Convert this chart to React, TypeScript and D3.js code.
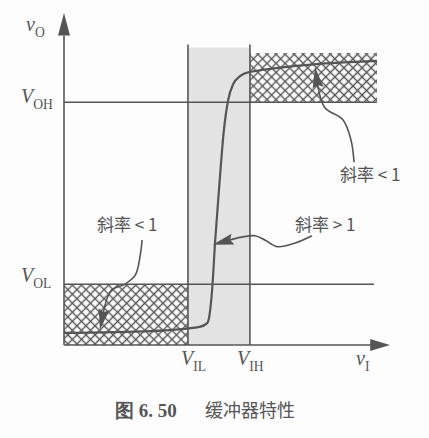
import React from 'react';
import * as d3 from 'd3';

// transfer curve of the buffer (v_I, v_O) in arbitrary volt units
const curveX = [0, 1.39, 2.19, 2.31, 2.35, 2.39, 2.44, 2.5, 2.58, 2.65, 2.73, 2.84, 3.0, 5.05];
const curveY = [0.2, 0.23, 0.3, 0.36, 0.51, 0.91, 1.73, 2.55, 3.54, 4.04, 4.3, 4.43, 4.5, 4.68];

// thresholds
const VIL = 2.0;
const VIH = 3.0;
const VOL = 1.0;
const VOH = 4.0;
const bandTop = 4.9;
const hatchTop = 4.81;
const xEnd = 5.05;

// annotation leaders: first point is the arrow tip
const upperLeaderX = [4.05, 4.1, 4.21, 4.5, 4.63, 4.68];
const upperLeaderY = [4.58, 4.24, 3.91, 3.71, 3.38, 3.01];
const midLeaderX = [2.4, 2.71, 3.08, 3.24, 3.44, 3.73, 4.0];
const midLeaderY = [1.65, 1.74, 1.8, 1.73, 1.62, 1.68, 1.8];
const lowLeaderX = [0.58, 0.65, 0.77, 0.98, 1.15, 1.23, 1.26];
const lowLeaderY = [0.25, 0.61, 0.91, 1.0, 1.15, 1.48, 1.73];

const labels = ['斜率 < 1', '斜率 > 1', '斜率 < 1'];
const caption = ['图 6. 50', '缓冲器特性'];

const W = 429;
const H = 438;
const ink = '#555';

const x = d3.scaleLinear().domain([0, 5.26]).range([64, 390]);
const y = d3.scaleLinear().domain([0, 5.47]).range([345, 13]);

const toPts = (xs: number[], ys: number[]) => xs.map((v, i) => [v, ys[i]] as [number, number]);

const smooth = d3.line<[number, number]>()
  .x(d => x(d[0]))
  .y(d => y(d[1]))
  .curve(d3.curveCatmullRom.alpha(0.5));

const curveLine = d3.line<[number, number]>()
  .x(d => x(d[0]))
  .y(d => y(d[1]))
  .curve(d3.curveMonotoneX);

// filled arrowhead at (tx,ty), pointing away from (fx,fy)
function arrowHead(tx: number, ty: number, fx: number, fy: number, len = 21, half = 5.5) {
  const dx = tx - fx;
  const dy = ty - fy;
  const n = Math.hypot(dx, dy);
  const ux = dx / n;
  const uy = dy / n;
  const bx = tx - ux * len;
  const by = ty - uy * len;
  return `M${tx},${ty}L${bx - uy * half},${by + ux * half}L${bx + ux * 3},${by + uy * 3}L${bx + uy * half},${by - ux * half}Z`;
}

function Leader({ xs, ys }: { xs: number[]; ys: number[] }) {
  const pts = toPts(xs, ys);
  const tx = x(pts[0][0]);
  const ty = y(pts[0][1]);
  const fx = x(pts[1][0]);
  const fy = y(pts[1][1]);
  return (
    <g>
      <path d={smooth(pts.slice(1)) || ''} fill="none" stroke={ink} strokeWidth={1.6} />
      <path d={`M${fx},${fy}L${(fx + tx) / 2},${(fy + ty) / 2}`} stroke={ink} strokeWidth={1.6} />
      <path d={arrowHead(tx, ty, fx, fy)} fill={ink} />
    </g>
  );
}

function Sub({ px, py, main, sub, size = 20 }: any) {
  return (
    <text x={px} y={py} fontFamily="'Liberation Serif', serif" fill={ink} fontSize={size}>
      <tspan fontStyle="italic">{main}</tspan>
      <tspan fontSize={size * 0.68} dy={6}>{sub}</tspan>
    </text>
  );
}

export default function App() {
  const x0 = x(0);
  const y0 = y(0);
  const cjk = "'Noto Sans CJK SC', sans-serif";
  return (
    <svg width={W} height={H} style={{ position: 'absolute', left: 0, top: 0, background: '#fdfdfd' }}>
      <defs>
        <pattern id="hatch" width={6.4} height={6.4} patternUnits="userSpaceOnUse" patternTransform="rotate(45)">
          <path d="M0,3.2H6.4M3.2,0V6.4" stroke={ink} strokeWidth={1.4} />
        </pattern>
      </defs>
      {/* transition band */}
      <rect x={x(VIL)} y={y(bandTop)} width={x(VIH) - x(VIL)} height={y0 - y(bandTop)} fill="#e3e3e3" />
      {/* hatched regions */}
      <rect x={x0} y={y(VOL)} width={x(VIL) - x0} height={y0 - y(VOL)} fill="url(#hatch)" />
      <rect x={x(VIH)} y={y(hatchTop)} width={x(xEnd) - x(VIH)} height={y(VOH) - y(hatchTop)} fill="url(#hatch)" />
      {/* level lines */}
      <line x1={x0} x2={x(xEnd)} y1={y(VOH)} y2={y(VOH)} stroke={ink} strokeWidth={1.6} />
      <line x1={x0} x2={x(xEnd) - 3} y1={y(VOL)} y2={y(VOL)} stroke={ink} strokeWidth={1.6} />
      <line x1={x(VIL)} x2={x(VIL)} y1={y(bandTop) - 3} y2={y0} stroke={ink} strokeWidth={1.6} />
      <line x1={x(VIH)} x2={x(VIH)} y1={y(bandTop) - 3} y2={y0} stroke={ink} strokeWidth={1.6} />
      {/* axes */}
      <line x1={x0} x2={x0} y1={y0} y2={y(5.1)} stroke={ink} strokeWidth={1.6} />
      <line x1={x0} x2={x(5.0)} y1={y0} y2={y0} stroke={ink} strokeWidth={1.6} />
      <path d={`M${x0},${y(5.47)}L${x0 - 6},${y(5.1)}L${x0 + 6},${y(5.1)}Z`} fill={ink} />
      <path d={`M${x(5.26)},${y0}L${x(4.94)},${y0 - 6}L${x(4.94)},${y0 + 6}Z`} fill={ink} />
      {/* transfer curve */}
      <path d={curveLine(toPts(curveX, curveY)) || ''} fill="none" stroke={ink} strokeWidth={2.2} />
      {/* annotations */}
      <Leader xs={upperLeaderX} ys={upperLeaderY} />
      <Leader xs={midLeaderX} ys={midLeaderY} />
      <Leader xs={lowLeaderX} ys={lowLeaderY} />
      <text x={340} y={181} fontFamily={cjk} fontSize={17} fill={ink}>{labels[0]}</text>
      <text x={295} y={231} fontFamily={cjk} fontSize={17} fill={ink}>{labels[1]}</text>
      <text x={97} y={231} fontFamily={cjk} fontSize={17} fill={ink}>{labels[2]}</text>
      {/* axis and level labels */}
      <Sub px={26} py={31} main="v" sub="O" />
      <Sub px={21} py={103} main="V" sub="OH" />
      <Sub px={21} py={282} main="V" sub="OL" />
      <Sub px={181} py={365} main="V" sub="IL" />
      <Sub px={237} py={365} main="V" sub="IH" />
      <Sub px={356} py={365} main="v" sub="I" />
      {/* caption */}
      <text x={115} y={417} fontFamily="'Liberation Serif', serif" fontWeight="bold" fontSize={19} fill="#555">
        {caption[0]}
      </text>
      <text x={205} y={417} fontFamily={cjk} fontSize={18} fill="#555">{caption[1]}</text>
    </svg>
  );
}
